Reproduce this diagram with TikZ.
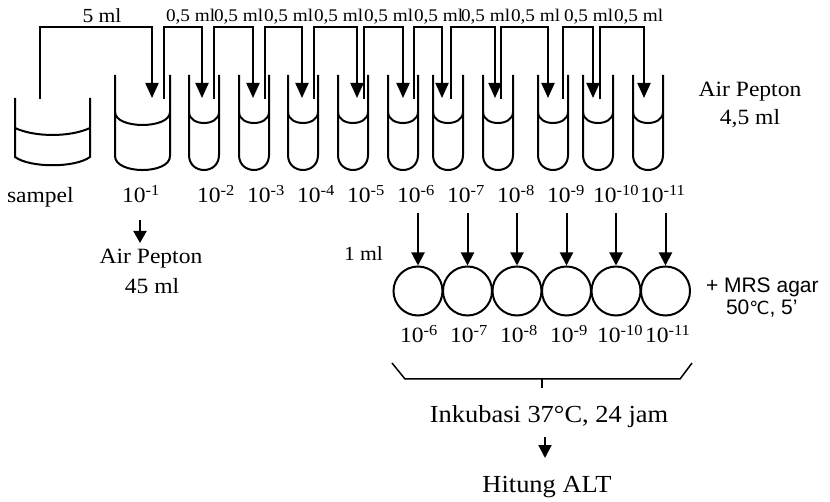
\documentclass[tikz,border=0pt]{standalone}
\usepackage{fontspec}
\setmainfont{Liberation Serif}[FakeStretch=1.08]
\newfontfamily\arialf{Liberation Sans}
\newfontfamily\dvs{DejaVu Sans}
\usetikzlibrary{arrows.meta}
\begin{document}
\begin{tikzpicture}[x=1pt,y=-1pt,line width=2pt,
  arr/.style={-{Triangle[length=15pt,width=13pt]}},
  arrs/.style={-{Triangle[length=13pt,width=13pt]}},
  txt/.style={inner sep=0pt,outer sep=0pt,font=\fontsize{21.8}{24}\selectfont},
  lbl/.style={txt,anchor=base west},
  toplbl/.style={inner sep=0pt,anchor=base west,font=\fontsize{17.8}{20}\selectfont},
  big/.style={inner sep=0pt,anchor=base,font=\fontsize{24.5}{27}\selectfont},
  plate/.style={circle,draw,minimum size=49pt,inner sep=0pt}]
\useasboundingbox (0,0) rectangle (830,502);
% sample beaker
\draw (15,98) -- (15,157) .. controls (30,168) and (75,168) .. (90,157) -- (90,98);
\draw (15,128) .. controls (35,137.3) and (70,137.3) .. (90,128);
% 10^-1 beaker
\draw (115,75) -- (115,156) .. controls (115,174.7) and (170,174.7) .. (170,156) -- (170,75);
\draw (115,112) .. controls (115,129.3) and (170,129.3) .. (170,112);
% tubes
\foreach \L in {189,239,288,338,388,433,483,538,583,633}{
  \draw (\L,75) -- (\L,155) .. controls (\L,175) and (\L+30,175) .. (\L+30,155) -- (\L+30,75);
  \draw (\L,112) .. controls (\L,126.7) and (\L+30,126.7) .. (\L+30,112);
}
% transfers
\foreach \s/\t [count=\i] in {40/152,164/202,214/253,265/302,314/357,364/403,414/442,451/495,501/548,563/593,600/644}{
  \coordinate (src\i) at (\s,99);
  \coordinate (tgt\i) at (\t,98);
  \draw[arr] (src\i) |- (\t,27) -- (tgt\i);
}
% top labels
\node[inner sep=0pt,anchor=base,font=\fontsize{20}{22}\selectfont] (l5) at (102,23) {5 ml};
\foreach \x [count=\i] in {165,213,263,313,363,413,460,510,563,613}{
  \node[toplbl] (h\i) at (\x,22) {0,5 ml};
}
% right label
\node[txt,anchor=base] (ap1) at (750,97) {Air Pepton};
\node[txt,anchor=base] (ap2) at (750,125) {4,5 ml};
% tube labels
\node[lbl] (ts) at (7,203) {sampel};
\node[lbl] (t1) at (122,203) {10\textsuperscript{-1}};
\foreach \x/\e in {197/2,247/3,297/4,347/5,397/6,447/7,497/8,547/9,593/10,640/11}{
  \node[lbl] (t\e) at (\x,203) {10\textsuperscript{-\e}};
}
% peptone 45 ml
\coordinate (pa) at (140,220);
\coordinate (pb) at (140,243);
\draw[-{Triangle[length=12pt,width=13pt]}] (pa) -- (pb);
\node[txt,anchor=base] (lp1) at (151,264) {Air Pepton};
\node[txt,anchor=base] (lp2) at (152,294) {45 ml};
% 1 ml
\node[inner sep=0pt,anchor=base west,font=\fontsize{20}{22}\selectfont] (oneml) at (343,261) {1 ml};
% plates
\foreach \x/\e in {418/6,467.5/7,517/8,566.5/9,616/10,665.5/11}{
  \node[plate] (p\e) at (\x,291) {};
  \coordinate (d\e) at (\x,213);
  \draw[arrs] (d\e) -- (p\e.north);
}
\foreach \x/\e in {400/6,450/7,500/8,550/9,597/10,645/11}{
  \node[lbl] (q\e) at (\x,343) {10\textsuperscript{-\e}};
}
% MRS agar
\node[inner sep=0pt,anchor=base west,font=\arialf\fontsize{21}{24}\selectfont] (mrs1) at (705,293) {+ MRS agar};
\node[inner sep=0pt,anchor=base west,font=\arialf\fontsize{21}{24}\selectfont] (mrs2) at (725,315) {50{\dvs\fontsize{18}{20}\selectfont ℃}, 5’};
% bracket
\coordinate (b1) at (392,363);
\coordinate (b2) at (405,379);
\coordinate (b3) at (680,379);
\coordinate (b4) at (692,363);
\coordinate (bt) at (542,379);
\coordinate (bb) at (542,388);
\draw[line width=1.5pt] (b1) -- (b2) -- (b3) -- (b4);
\draw[line width=1.5pt] (bt) -- (bb);
% incubation
\node[big] (ink) at (549,422) {Inkubasi 37°C, 24 jam};
\coordinate (ia) at (545,437);
\coordinate (ib) at (545,458);
\draw[arrs] (ia) -- (ib);
\node[big] (alt) at (547,492) {Hitung ALT};
\end{tikzpicture}
\end{document}
